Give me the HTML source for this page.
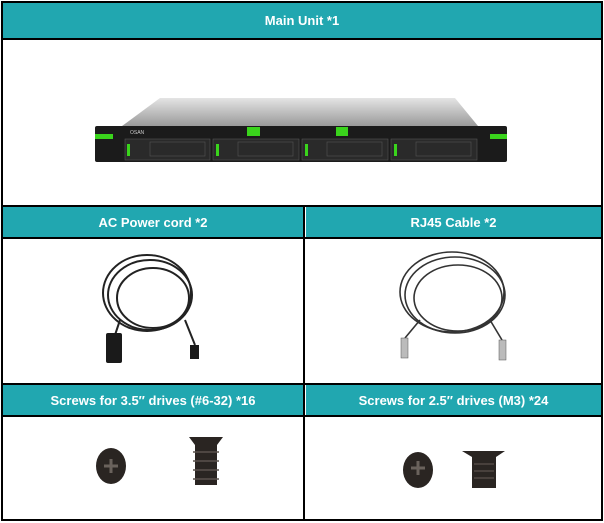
<!DOCTYPE html>
<html><head><meta charset="utf-8"><style>
body{margin:0;background:#fff;width:604px;height:523px;position:relative;overflow:hidden;font-family:"Liberation Sans",sans-serif}
.b{position:absolute;background:#000}
.h{position:absolute;background:#21a7b0;color:#fff;font-weight:bold;font-size:13px;display:flex;align-items:center;justify-content:center}
svg{position:absolute;left:0;top:0}
</style></head><body>
<div class="h" style="left:3px;top:3px;width:598px;height:35px">Main Unit *1</div>
<div class="h" style="left:3px;top:207px;width:300px;height:30px">AC Power cord *2</div>
<div class="h" style="left:306px;top:207px;width:295px;height:30px">RJ45 Cable *2</div>
<div class="h" style="left:3px;top:385px;width:300px;height:30px">Screws for 3.5″ drives (#6-32) *16</div>
<div class="h" style="left:306px;top:385px;width:295px;height:30px">Screws for 2.5″ drives (M3) *24</div>
<div class="b" style="left:1px;top:1px;width:602px;height:2px"></div>
<div class="b" style="left:1px;top:519px;width:602px;height:2px"></div>
<div class="b" style="left:1px;top:1px;width:2px;height:520px"></div>
<div class="b" style="left:601px;top:1px;width:2px;height:520px"></div>
<div class="b" style="left:1px;top:38px;width:602px;height:2px"></div>
<div class="b" style="left:1px;top:205px;width:602px;height:2px"></div>
<div class="b" style="left:1px;top:237px;width:602px;height:2px"></div>
<div class="b" style="left:1px;top:383px;width:602px;height:2px"></div>
<div class="b" style="left:1px;top:415px;width:602px;height:2px"></div>
<div class="b" style="left:303px;top:205px;width:2px;height:316px"></div>
<svg width="604" height="523">
<defs><linearGradient id="g" x1="0" y1="0" x2="0" y2="1"><stop offset="0" stop-color="#e4e4e4"/><stop offset="1" stop-color="#9a9a9a"/></linearGradient></defs>
<!-- server -->
<polygon points="160,98 455,98 478,126 122,126" fill="url(#g)"/>
<rect x="95" y="126" width="412" height="36" fill="#1b1b1b" rx="2"/>
<rect x="95" y="134" width="18" height="5" fill="#3ad41c"/>
<rect x="490" y="134" width="17" height="5" fill="#3ad41c"/>
<rect x="247" y="127" width="13" height="9" fill="#3ad41c"/>
<rect x="336" y="127" width="12" height="9" fill="#3ad41c"/>
<text x="130" y="134" font-size="5" fill="#ccc">OSAN</text>
<g fill="#2a2a2a" stroke="#555" stroke-width="0.6">
<rect x="125" y="139" width="85" height="21"/><rect x="213" y="139" width="86" height="21"/>
<rect x="302" y="139" width="86" height="21"/><rect x="391" y="139" width="86" height="21"/>
<rect x="150" y="142" width="55" height="14"/><rect x="238" y="142" width="55" height="14"/>
<rect x="327" y="142" width="55" height="14"/><rect x="416" y="142" width="55" height="14"/></g>
<g fill="#3ad41c"><rect x="127" y="144" width="3" height="12"/><rect x="216" y="144" width="3" height="12"/><rect x="305" y="144" width="3" height="12"/><rect x="394" y="144" width="3" height="12"/></g>
<!-- power cord -->
<g fill="none" stroke="#222" stroke-width="2">
<ellipse cx="150" cy="295" rx="42" ry="35"/><ellipse cx="153" cy="298" rx="36" ry="30"/><ellipse cx="147" cy="293" rx="44" ry="38"/>
<path d="M120 320 L115 335"/><path d="M185 320 L195 345"/></g>
<rect x="106" y="333" width="16" height="30" fill="#1a1a1a" rx="2"/>
<rect x="190" y="345" width="9" height="14" fill="#1a1a1a"/>
<!-- rj45 -->
<g fill="none" stroke="#333" stroke-width="1.6">
<ellipse cx="455" cy="295" rx="50" ry="38"/><ellipse cx="458" cy="298" rx="44" ry="33"/><ellipse cx="452" cy="292" rx="52" ry="40"/>
<path d="M420 320 L405 338"/><path d="M490 320 L502 340"/></g>
<rect x="401" y="338" width="7" height="20" fill="#bbb" stroke="#555" stroke-width="0.5"/>
<rect x="499" y="340" width="7" height="20" fill="#bbb" stroke="#555" stroke-width="0.5"/>
<!-- screws -->
<ellipse cx="111" cy="466" rx="15" ry="18" fill="#2a2522"/>
<path d="M104 466h14M111 459v14" stroke="#6a625c" stroke-width="3"/>
<path d="M189 437h34l-6 8v40h-22v-40z" fill="#2a2522"/>
<g stroke="#5a524c" stroke-width="1.5"><path d="M193 452h26M193 461h26M193 470h26M193 479h26"/></g>
<ellipse cx="418" cy="470" rx="15" ry="18" fill="#2a2522"/>
<path d="M411 468h14M418 461v14" stroke="#6a625c" stroke-width="3"/>
<path d="M462 451h43l-9 6v31h-24v-31z" fill="#2a2522"/>
<g stroke="#5a524c" stroke-width="1.2"><path d="M474 464h20M474 471h20M474 478h20"/></g>
</svg>
</body></html>
